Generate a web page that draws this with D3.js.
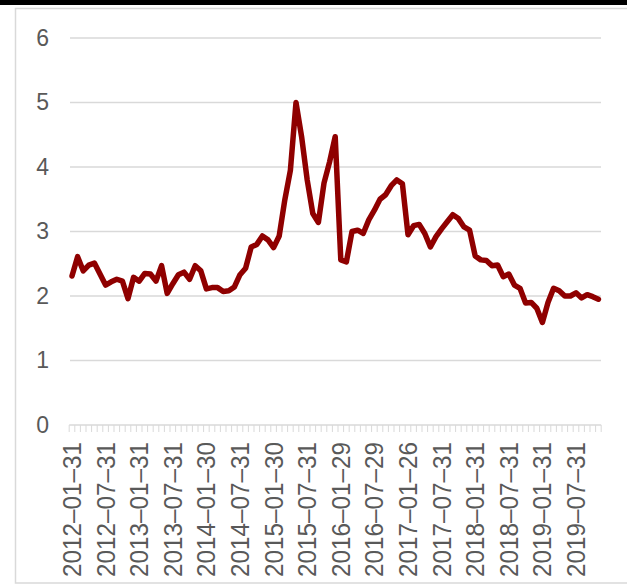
<!DOCTYPE html>
<html>
<head>
<meta charset="utf-8">
<script src="https://cdn.jsdelivr.net/npm/d3@7"></script>
<style>
  html, body { margin: 0; padding: 0; background: #fff; }
  svg { display: block; }
</style>
</head>
<body>
<svg id="chart" width="627" height="588"></svg>
<script>
// Monthly series, Jan 2012 – Nov 2019
const startMonth = "2012-01";
const values = [
  2.31, 2.61, 2.39, 2.48, 2.51, 2.34, 2.17, 2.22, 2.26, 2.23,
  1.96, 2.29, 2.23, 2.35, 2.34, 2.23, 2.47, 2.04, 2.19, 2.33,
  2.37, 2.26, 2.47, 2.39, 2.11, 2.13, 2.13, 2.07, 2.08, 2.14,
  2.33, 2.43, 2.76, 2.80, 2.93, 2.87, 2.75, 2.93, 3.49, 3.95,
  5.00, 4.47, 3.80, 3.28, 3.14, 3.75, 4.08, 4.47, 2.56, 2.53,
  3.00, 3.02, 2.97, 3.18, 3.33, 3.50, 3.57, 3.71, 3.80, 3.74,
  2.95, 3.09, 3.11, 2.97, 2.76, 2.92, 3.04, 3.15, 3.26, 3.20,
  3.07, 3.02, 2.62, 2.56, 2.55, 2.47, 2.48, 2.30, 2.34, 2.17,
  2.12, 1.89, 1.90, 1.81, 1.59, 1.90, 2.12, 2.08, 2.00, 2.00,
  2.05, 1.97, 2.02, 1.99, 1.95
];
// Labelled months (every sixth category)
const tickLabels = [
  "2012-01-31", "2012-07-31", "2013-01-31", "2013-07-31",
  "2014-01-30", "2014-07-31", "2015-01-30", "2015-07-31",
  "2016-01-29", "2016-07-29", "2017-01-26", "2017-07-31",
  "2018-01-31", "2018-07-31", "2019-01-31", "2019-07-31"
];
const yTicks = [0, 1, 2, 3, 4, 5, 6];

const t0 = d3.timeParse("%Y-%m")(startMonth);
const months = values.map((_, i) => d3.timeFormat("%Y-%m")(d3.timeMonth.offset(t0, i)));
const data = months.map((m, i) => ({ month: m, value: values[i] }));
const labelByMonth = new Map(tickLabels.map(l => [l.slice(0, 7), l]));

const svg = d3.select("#chart");

// frame (open to the right edge) and top rule
svg.append("rect")
  .attr("x", 15.5).attr("y", 8.5)
  .attr("width", 640).attr("height", 574.5)
  .attr("fill", "none").attr("stroke", "#d9d9d9").attr("stroke-width", 1.5);
svg.append("rect")
  .attr("x", 0).attr("y", 0).attr("width", 627).attr("height", 5)
  .attr("fill", "#000");

const x = d3.scaleBand().domain(months).range([69.2, 601.2]).padding(0);
const y = d3.scaleLinear().domain([0, 6]).range([425, 38]);

// horizontal gridlines
svg.append("g").selectAll("line")
  .data(yTicks.filter(d => d > 0))
  .join("line")
  .attr("x1", 70).attr("x2", 601)
  .attr("y1", d => y(d)).attr("y2", d => y(d))
  .attr("stroke", "#d9d9d9").attr("stroke-width", 1.5);

// y axis labels
const yAxis = d3.axisLeft(y).tickValues(yTicks).tickFormat(d3.format("d"))
  .tickSize(0).tickPadding(0);
const gy = svg.append("g").attr("transform", "translate(49,0)").call(yAxis);
gy.select(".domain").remove();
gy.selectAll("text")
  .attr("fill", "#595959")
  .style("font-family", "'Liberation Sans', Arial, sans-serif")
  .style("font-size", "23px");

// category axis: baseline and month tick marks
const gx = svg.append("g").attr("transform", "translate(0,425)");
gx.append("line")
  .attr("x1", 69.2).attr("x2", 601.2)
  .attr("stroke", "#d9d9d9").attr("stroke-width", 1.5);
gx.selectAll("line.tick")
  .data(months.concat(["end"]))
  .join("line")
  .attr("class", "tick")
  .attr("x1", (d, i) => i < months.length ? x(d) : x.range()[1])
  .attr("x2", (d, i) => i < months.length ? x(d) : x.range()[1])
  .attr("y1", 0).attr("y2", 7)
  .attr("stroke", "#d9d9d9").attr("stroke-width", 1);

gx.selectAll("text")
  .data(months.filter(m => labelByMonth.has(m)))
  .join("text")
  .attr("transform", d => `translate(${x(d) + x.bandwidth() / 2 + 9},152) rotate(-90)`)
  .attr("text-anchor", "start")
  .attr("fill", "#595959")
  .style("font-family", "'Liberation Sans', Arial, sans-serif")
  .style("font-size", "26px")
  .attr("textLength", 135)
  .attr("lengthAdjust", "spacingAndGlyphs")
  .text(d => labelByMonth.get(d).replace(/-/g, "\u2013"));

// series line
const line = d3.line()
  .x(d => x(d.month) + x.bandwidth() / 2)
  .y(d => y(d.value));
svg.append("path")
  .datum(data)
  .attr("d", line)
  .attr("fill", "none")
  .attr("stroke", "#8f0000")
  .attr("stroke-width", 5.5)
  .attr("stroke-linejoin", "round")
  .attr("stroke-linecap", "round");
</script>
</body>
</html>
